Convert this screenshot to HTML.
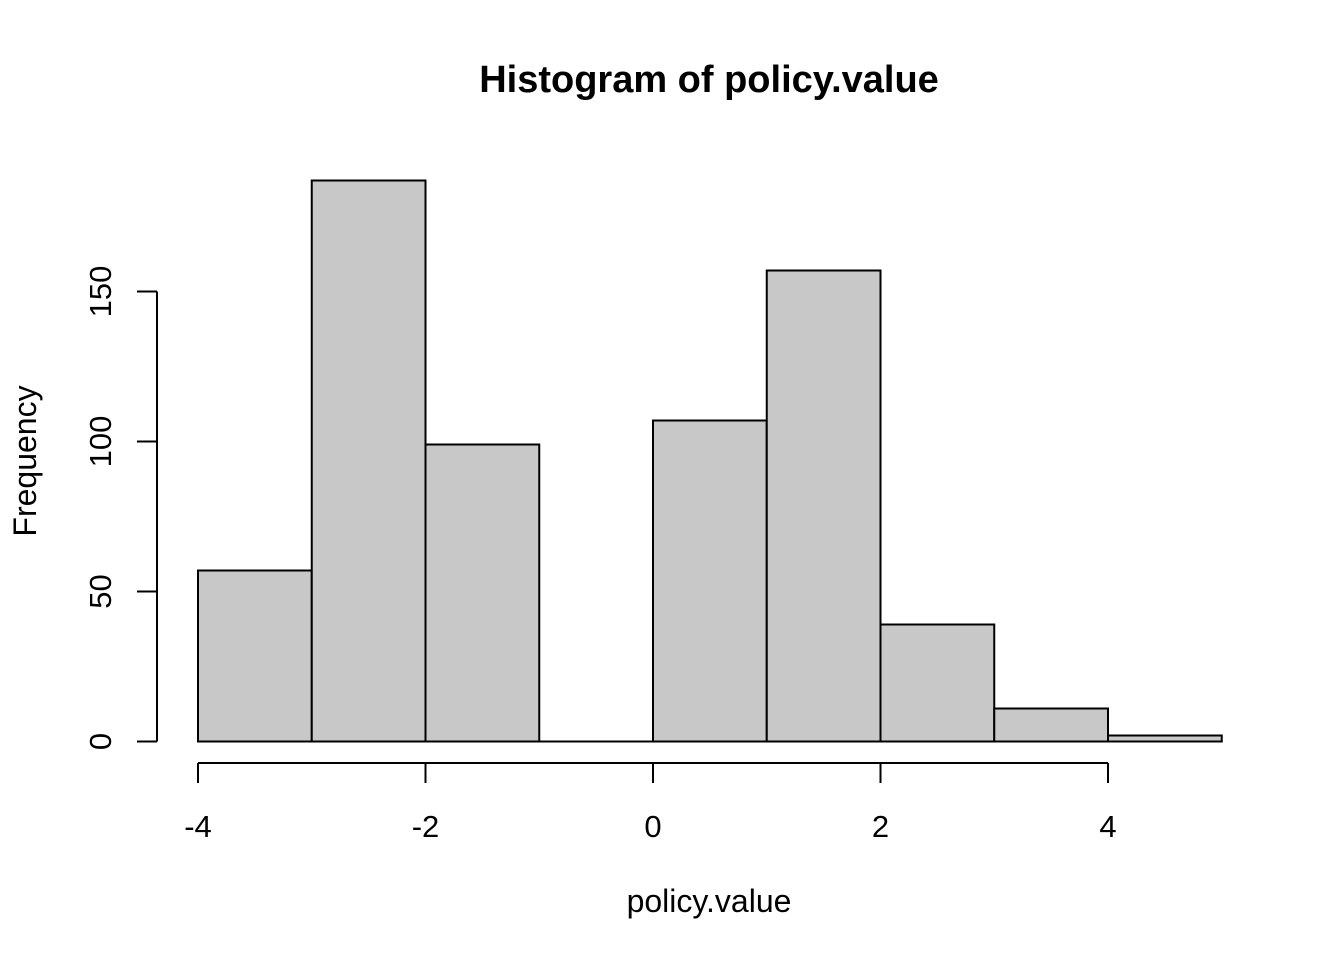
<!DOCTYPE html>
<html><head><meta charset="utf-8"><style>
body{margin:0;background:#fff;}
svg{display:block;font-family:"Liberation Sans",Arial,sans-serif;}
</style></head><body>
<svg id="chart" width="1344" height="960">
<text x="709" y="92" text-anchor="middle" font-size="38" font-weight="bold">Histogram of policy.value</text>
<text x="709" y="912" text-anchor="middle" font-size="32">policy.value</text>
<text transform="translate(36,461) rotate(-90)" text-anchor="middle" font-size="32">Frequency</text>
<g id="bars"></g><g id="axes"></g>
</svg>
<script>
const breaks=[-4,-3,-2,-1,0,1,2,3,4,5];
const counts=[57,187,99,0,107,157,39,11,2];
const xTicks=[-4,-2,0,2,4];
const yTicks=[0,50,100,150];
const NS="http://www.w3.org/2000/svg";
const sx=v=>198+(v+4)*113.75;
const sy=v=>741.5-v*3;
function mk(t,a,p){const e=document.createElementNS(NS,t);for(const k in a)e.setAttribute(k,a[k]);p.appendChild(e);return e;}
const bars=document.getElementById('bars'),axes=document.getElementById('axes');
counts.forEach((c,i)=>{
 const x0=sx(breaks[i]),x1=sx(breaks[i+1]);
 const r=mk('path',{d:`M${x0},${sy(0)}V${sy(c)}H${x1}V${sy(0)}Z`,fill:'#c8c8c8',stroke:'#000','stroke-width':2},bars);
 
 
});
const xa=mk('path',{d:`M${sx(xTicks[0])},763H${sx(xTicks[xTicks.length-1])}`,stroke:'#000','stroke-width':2,fill:'none'},axes);


xTicks.forEach(t=>{
 mk('line',{x1:sx(t),x2:sx(t),y1:763,y2:783,stroke:'#000','stroke-width':2},axes);
 const tx=mk('text',{x:sx(t),y:837,'text-anchor':'middle','font-size':31},axes);
 tx.textContent=t;
 
 
});
const ya=mk('path',{d:`M157,${sy(yTicks[0])}V${sy(yTicks[yTicks.length-1])}`,stroke:'#000','stroke-width':2,fill:'none'},axes);


yTicks.forEach(t=>{
 mk('line',{x1:137,x2:157,y1:sy(t),y2:sy(t),stroke:'#000','stroke-width':2},axes);
 const tx=mk('text',{transform:`translate(111,${sy(t)}) rotate(-90)`,'text-anchor':'middle','font-size':31},axes);
 tx.textContent=t;
 
 
});
</script>
</body></html>
